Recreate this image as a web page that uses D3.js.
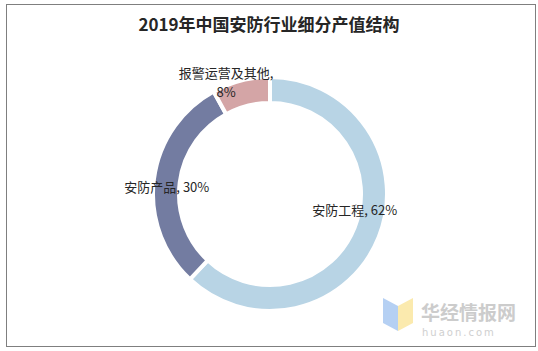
<!DOCTYPE html>
<html>
<head>
<meta charset="utf-8">
<script src="https://cdn.jsdelivr.net/npm/d3@7"></script>
<style>
  body { margin: 0; background: #fff; }
  svg { display: block; }
</style>
</head>
<body>
<div id="chart-area"></div>
<script>
// data
var categories = ["安防工程", "安防产品", "报警运营及其他"];
var shares = [62, 30, 8];
var colors = ["#b8d4e5", "#737ca1", "#d4a5a6"];

var width = 538, height = 351;
var cx = 270, cy = 194, outerR = 117, innerR = 91;

var svg = d3.select("#chart-area").append("svg")
  .attr("width", width).attr("height", height);

svg.append("rect").attr("x", 6.5).attr("y", 4.5)
  .attr("width", 529).attr("height", 342)
  .attr("fill", "#fff").attr("stroke", "#7f7f7f").attr("stroke-width", 1);

svg.append("text").attr("x", 269).attr("y", 31)
  .attr("text-anchor", "middle")
  .attr("font-family", "'Noto Sans CJK SC', sans-serif")
  .attr("font-weight", "bold").attr("font-size", "17px").attr("fill", "#262626")
  .text("2019年中国安防行业细分产值结构");

var rows = categories.map(function(c, i) { return {name: c, value: shares[i], color: colors[i]}; });

var pie = d3.pie().sort(null).value(function(d) { return d.value; });
var arc = d3.arc().innerRadius(innerR).outerRadius(outerR);
var labelArc = d3.arc().innerRadius(104).outerRadius(104);

var g = svg.append("g").attr("transform", "translate(" + cx + "," + cy + ")");

g.selectAll("path").data(pie(rows)).enter().append("path")
  .attr("d", arc)
  .attr("fill", function(d) { return d.data.color; })
  .attr("stroke", "#fff").attr("stroke-width", 4).attr("stroke-linejoin", "miter");

// label offsets from centroid (Excel best-fit placement)
var offsets = [[-12, -22], [0, 6], [-18, -1]];

var labels = g.selectAll("text.lbl").data(pie(rows)).enter().append("text")
  .attr("class", "lbl")
  .attr("font-family", "'Noto Sans CJK SC', sans-serif")
  .attr("font-size", "13px").attr("fill", "#262626")
  .attr("text-anchor", "middle")
  .attr("transform", function(d, i) {
    var c = labelArc.centroid(d);
    return "translate(" + (c[0] + offsets[i][0]) + "," + (c[1] + offsets[i][1]) + ")";
  });

labels.each(function(d, i) {
  var t = d3.select(this);
  if (i === 2) {
    t.append("tspan").attr("x", 0).attr("y", -14).text(d.data.name + ",");
    t.append("tspan").attr("x", 0).attr("y", 5).text(d.data.value + "%");
  } else {
    t.append("tspan").attr("x", 0).attr("y", 5).text(d.data.name + ", " + d.data.value + "%");
  }
});

// watermark
var wm = svg.append("g").attr("opacity", 0.85);
wm.append("path").attr("d", "M383,298 L398,306 L398,331 L383,323 Z").attr("fill", "#a9c8f2");
wm.append("path").attr("d", "M398,306 L413,298 L413,323 L398,331 Z").attr("fill", "#fbe7a0");
wm.append("text").attr("x", 421).attr("y", 320)
  .attr("font-family", "'Noto Sans CJK SC', sans-serif").attr("font-weight", "bold")
  .attr("font-size", "19px").attr("fill", "#c4c4c4").text("华经情报网");
wm.append("text").attr("x", 422).attr("y", 336)
  .attr("font-family", "'DejaVu Sans', sans-serif")
  .attr("font-size", "10px").attr("letter-spacing", "2px").attr("fill", "#c8c8c8").text("huaon.com");
</script>
</body>
</html>
